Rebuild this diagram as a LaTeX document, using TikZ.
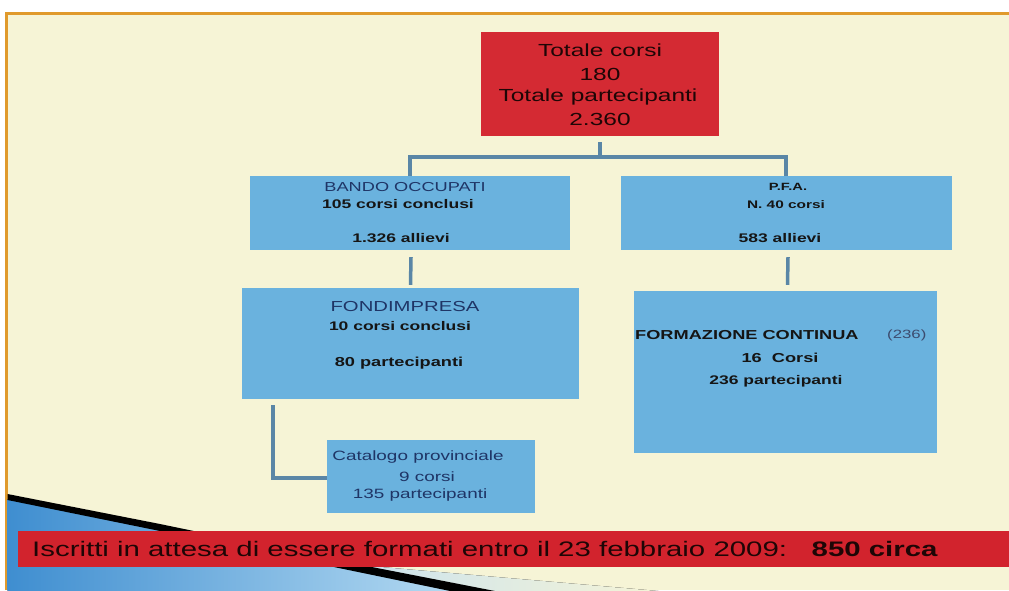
\documentclass[tikz,border=0pt]{standalone}
\usepackage{fontspec}
\setmainfont{Liberation Sans}[FakeStretch=1.4]
\usetikzlibrary{calc}
\definecolor{cream}{HTML}{F6F4D6}
\definecolor{framecol}{HTML}{E09A2C}
\definecolor{boxblue}{HTML}{6AB2DE}
\definecolor{boxred}{HTML}{D42A33}
\definecolor{bandred}{HTML}{D2232D}
\definecolor{linkcol}{HTML}{5A86A6}
\definecolor{navy}{HTML}{1F3566}
\definecolor{darktext}{HTML}{151515}
\definecolor{redtext}{HTML}{1E0606}
\definecolor{paleblue}{HTML}{C4E0F2}
\definecolor{wedgeL}{HTML}{3F8ED0}
\definecolor{wedgeR}{HTML}{B9DDF3}
\newcommand{\fs}[1]{\fontsize{#1}{#1}\selectfont}
\tikzset{
  bluebox/.style={fill=boxblue, draw=none, inner sep=0pt},
  redbox/.style={fill=boxred, draw=none, inner sep=0pt},
  txt/.style={inner sep=0pt, text=darktext},
  link/.style={draw=linkcol, line width=3.5pt},
}
\begin{document}
\begin{tikzpicture}[x=1pt,y=-1pt]
\useasboundingbox (0,0) rectangle (1009,590);
% page background and frame
\fill[white] (0,0) rectangle (1009,590);
\fill[cream] (6,13) rectangle (1009,590);
\draw[framecol, line width=3pt] (6,590) -- (6,13) -- (1009,13);
% decorative wedge bottom left
\fill[left color=paleblue, right color=cream] (300,560) -- (670,592) -- (470,592) -- cycle;
\fill[left color=wedgeL, right color=wedgeR]
  (7.5,499) -- (475,592) -- (7.5,592) -- cycle;
\fill[black] (7.5,494) -- (160,524) -- (300,553) -- (500,592) -- (455,592) -- (300,560) -- (160,531) -- (7.5,500) -- cycle;
% top box
\node[redbox, minimum width=238pt, minimum height=104pt] (top) at (600,84) {};
\node[txt, text=redtext, font=\fs{17.5}] (t1) at (600,50) {Totale corsi};
\node[txt, text=redtext, font=\fs{17.5}] (t2) at (600,74) {180};
\node[txt, text=redtext, font=\fs{17.5}] (t3) at (598,97) {Totale partecipanti};
\node[txt, text=redtext, font=\fs{17.5}] (t4) at (600,119) {2.360};
% second row
\node[bluebox, minimum width=320pt, minimum height=74pt] (bando) at (410,213) {};
\node[bluebox, minimum width=331pt, minimum height=74pt] (pfa) at (786,213) {};
\node[txt, text=navy, font=\fs{13}] (b1) at (405,187) {BANDO OCCUPATI};
\node[txt, font=\bfseries\fs{12.5}] (b2) at (398,204) {105 corsi conclusi};
\node[txt, font=\bfseries\fs{12.5}] (b3) at (401,238) {1.326 allievi};
\node[txt, font=\bfseries\fs{10.5}] (p1) at (788,187) {P.F.A.};
\node[txt, font=\bfseries\fs{11}] (p2) at (786,205) {N. 40 corsi};
\node[txt, font=\bfseries\fs{12.5}] (p3) at (780,238) {583 allievi};
% third row
\node[bluebox, minimum width=337pt, minimum height=111pt] (fondi) at (410.5,343.5) {};
\node[bluebox, minimum width=303pt, minimum height=162pt] (formaz) at (785.5,372) {};
\node[txt, text=navy, font=\fs{14.5}] (f1) at (405,307) {FONDIMPRESA};
\node[txt, font=\bfseries\fs{12.5}] (f2) at (400,326) {10 corsi conclusi};
\node[txt, font=\bfseries\fs{13}] (f3) at (399,363) {80 partecipanti};
\node[txt, font=\bfseries\fs{13}, anchor=west] (c1) at (635,335) {FORMAZIONE CONTINUA};
\node[txt, text=navy!70!gray, font=\fs{12}, anchor=west] (c2) at (887,335) {(236)};
\node[txt, font=\bfseries\fs{13}] (c3) at (780,358) {16\ \ Corsi};
\node[txt, font=\bfseries\fs{12.5}] (c4) at (776,381) {236 partecipanti};
% catalogo
\node[bluebox, minimum width=208pt, minimum height=73pt] (catal) at (431,476.5) {};
\node[txt, text=navy, font=\fs{13.5}] (k1) at (418,457) {Catalogo provinciale};
\node[txt, text=navy, font=\fs{13.5}] (k2) at (427,477) {9 corsi};
\node[txt, text=navy, font=\fs{13.5}] (k3) at (420,495) {135 partecipanti};
% connectors
\draw[link] ($(top.south)+(0,6)$) -- ++(0,15);
\draw[link] (bando.north) -- ++(0,-19) -| (pfa.north);
\draw[link] ($(bando.south)+(1,7)$) -- ($(fondi.north)+(0,-3)$);
\draw[link] ($(pfa.south)+(2,7)$) -- ($(formaz.north)+(2,-6)$);
\coordinate (cstart) at (273,405);
\draw[link, line cap=butt] (cstart) |- (catal.west |- 0,478);
% bottom band
\node[fill=bandred, minimum width=991pt, minimum height=36pt, inner sep=0pt, anchor=north west] (band) at (18,531) {};
\node[txt, text=redtext, font=\fs{21}, anchor=west] (bt) at (32,549) {Iscritti in attesa di essere formati entro il 23 febbraio 2009:\ \ \ \textbf{850 circa}};
\end{tikzpicture}
\end{document}
